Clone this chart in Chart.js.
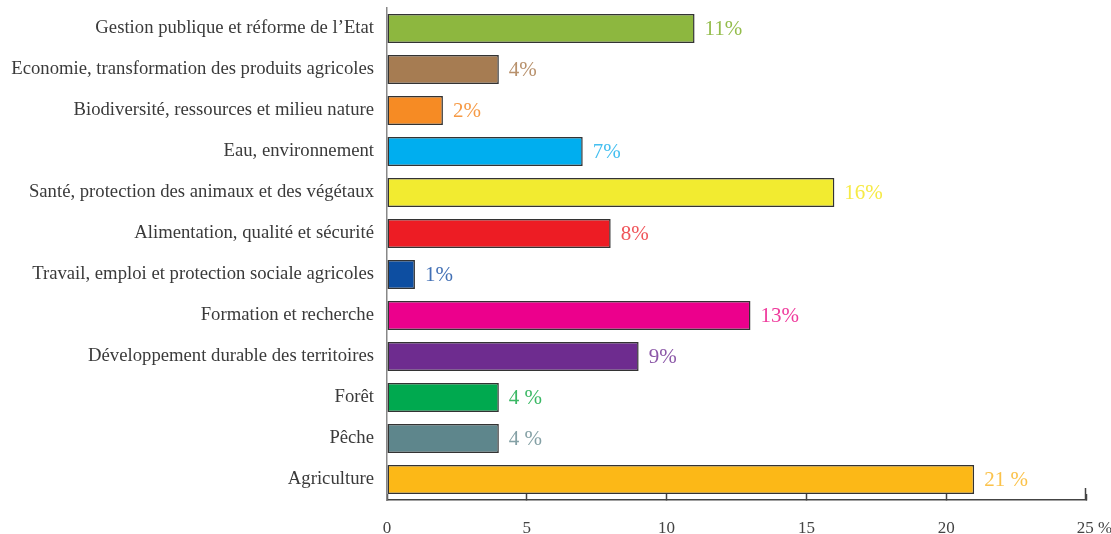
<!DOCTYPE html>
<html>
<head>
<meta charset="utf-8">
<script src="https://cdn.jsdelivr.net/npm/chart.js@4/dist/chart.umd.min.js"></script>
<style>
  html, body { margin: 0; padding: 0; background: #fff; }
  #wrap { width: 1111px; height: 534px; }
</style>
</head>
<body>
<div id="wrap"><canvas id="chart"></canvas></div>
<script>
const categories = [
  'Gestion publique et réforme de l\u2019Etat',
  'Economie, transformation des produits agricoles',
  'Biodiversité, ressources et milieu nature',
  'Eau, environnement',
  'Santé, protection des animaux et des végétaux',
  'Alimentation, qualité et sécurité',
  'Travail, emploi et protection sociale agricoles',
  'Formation et recherche',
  'Développement durable des territoires',
  'Forêt',
  'Pêche',
  'Agriculture'
]
const shares = [11, 4, 2, 7, 16, 8, 1, 13, 9, 4, 4, 21]
const valueLabels = ['11%', '4%', '2%', '7%', '16%', '8%', '1%', '13%', '9%', '4 %', '4 %', '21 %']
const barColors = ['#8db73f', '#a67c52', '#f68b24', '#00aeef', '#f2eb30', '#ed1c24',
  '#0d4ea1', '#ec008c', '#6e2c8f', '#00a94f', '#5e868c', '#fcb817']
const labelColors = ['#94bd4c', '#b8916c', '#f69a45', '#45bff0', '#f6ea45', '#f0555a',
  '#4270b5', '#ef3a9c', '#8c58a8', '#3bb865', '#84a0a5', '#fbc24a']
const xTicks = [0, 5, 10, 15, 20, 25]

const serif = '"Liberation Serif", "DejaVu Serif", serif'

const valueLabelPlugin = {
  id: 'valueLabels',
  afterDatasetsDraw(chart) {
    const ctx = chart.ctx
    const meta = chart.getDatasetMeta(0)
    ctx.save()
    ctx.font = '21px ' + serif
    ctx.textBaseline = 'middle'
    ctx.textAlign = 'left'
    meta.data.forEach((bar, i) => {
      ctx.fillStyle = labelColors[i]
      ctx.fillText(valueLabels[i], bar.x + 10, bar.y + 1)
    })
    // longer end tick at the max of the x axis
    const x = chart.scales.x
    const px = Math.round(x.getPixelForValue(xTicks[xTicks.length - 1])) - 0.5
    ctx.strokeStyle = '#444'
    ctx.lineWidth = 1.5
    ctx.beginPath()
    ctx.moveTo(px, x.top)
    ctx.lineTo(px, x.top - 12)
    ctx.stroke()
    ctx.restore()
  }
}

new Chart(document.getElementById('chart'), {
  type: 'bar',
  data: {
    labels: categories,
    datasets: [{
      data: shares,
      backgroundColor: barColors,
      borderColor: '#333',
      borderWidth: 1.5,
      borderSkipped: false,
      categoryPercentage: 0.71,
      barPercentage: 1
    }]
  },
  options: {
    indexAxis: 'y',
    responsive: true,
    maintainAspectRatio: false,
    animation: false,
    devicePixelRatio: 1,
    layout: { padding: { top: 8, right: 25, left: 0, bottom: 0 } },
    plugins: {
      legend: { display: false },
      tooltip: { enabled: false }
    },
    scales: {
      x: {
        min: 0,
        max: 25,
        afterBuildTicks(scale) {
          scale.ticks = xTicks.map(v => ({ value: v }))
        },
        afterFit(scale) {
          scale.height = 34
          scale.paddingLeft = 0
          scale.paddingRight = 0
        },
        grid: {
          drawOnChartArea: false,
          drawTicks: true,
          tickLength: -6,
          tickWidth: 1.5,
          tickColor: '#444'
        },
        border: { display: true, color: '#444', width: 1.5 },
        ticks: {
          padding: 24,
          color: '#444',
          font: { family: serif, size: 17 },
          maxRotation: 0,
          autoSkip: false,
          // keep "25" centred on its tick, the "%" hangs to the right
          callback: v => (v === 25 ? '\u2002\u200225 %' : String(v))
        }
      },
      y: {
        afterFit(scale) {
          scale.width = 387
          scale.paddingTop = 0
          scale.paddingBottom = 0
        },
        grid: { display: false, drawTicks: false },
        border: { display: true, color: '#888', width: 1.5 },
        ticks: {
          padding: 13,
          color: '#3a3a3a',
          font: { family: serif, size: 18.7 },
          autoSkip: false
        }
      }
    }
  },
  plugins: [valueLabelPlugin]
})
</script>
</body>
</html>
